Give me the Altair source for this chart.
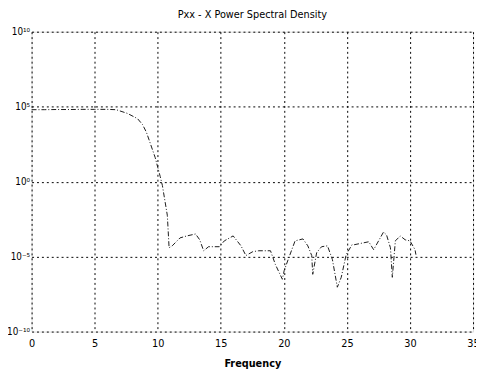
import altair as alt
import pandas as pd

freq = [0.0, 1.0, 2.0, 3.0, 4.0, 5.0, 6.0, 6.7, 7.6, 8.4, 8.8, 9.1, 9.35, 9.8, 10.2, 10.37, 10.76, 10.83, 10.9,
        11.15, 11.77, 12.31, 13.0, 13.33, 13.64, 14.03, 14.89, 15.28, 15.98, 16.6, 16.99, 17.54,
        18.0, 18.94, 19.33, 19.88, 20.03, 20.34, 20.89, 21.51, 21.9, 22.21, 22.29, 22.6, 22.99,
        23.46, 23.85, 24.24, 24.55, 24.94, 25.4, 25.56, 26.73, 27.12, 27.51, 27.9, 28.14, 28.45,
        28.6, 28.84, 29.23, 29.62, 30.0, 30.4, 30.47]
log_pxx = [4.8, 4.8, 4.81, 4.81, 4.82, 4.82, 4.82, 4.8, 4.55, 4.2, 3.8, 3.3, 2.7, 1.6, 0.33, -0.26, -2.24, -3.29, -4.41,
           -4.28, -3.75, -3.62, -3.49, -3.88, -4.61, -4.34, -4.34, -3.95, -3.62, -4.28, -4.93, -4.67,
           -4.61, -4.61, -5.53, -6.51, -5.92, -5.2, -3.95, -3.82, -4.28, -4.93, -6.18, -4.74, -4.34,
           -4.28, -5.2, -7.04, -6.38, -4.87, -4.21, -4.21, -4.01, -4.54, -3.95, -3.36, -3.55, -4.41,
           -6.38, -3.95, -3.62, -3.88, -3.95, -4.54, -4.87]

x_ticks = [0, 5, 10, 15, 20, 25, 30, 35]
y_ticks = [1e-10, 1e-5, 1e0, 1e5, 1e10]

df = pd.DataFrame({"f": freq, "p": [10 ** v for v in log_pxx]})

FONT = "DejaVu Sans Condensed, Liberation Sans Narrow, Liberation Sans, sans-serif"

label_expr = ("datum.value < 1e-7 ? '10⁻¹⁰' : datum.value < 1e-2 ? '10⁻⁵' : "
              "datum.value < 1e2 ? '10⁰' : datum.value < 1e7 ? '10⁵' : '10¹⁰'")

chart = alt.Chart(df).mark_line(color="#1a1a1a", strokeWidth=1, strokeDash=[5, 2, 1, 2]).encode(
    x=alt.X("f:Q", scale=alt.Scale(domain=[0, 35], nice=False),
            axis=alt.Axis(values=x_ticks, title="Frequency", grid=True, gridColor="black",
                          gridDash=[2, 3], gridOpacity=1, gridWidth=1, domain=False,
                          ticks=False, labelFont=FONT, labelFontSize=11,
                          labelColor="black", titleFont=FONT, titleFontSize=11,
                          titleFontWeight="bold", titleColor="black", titlePadding=10,
                          labelPadding=6, labelFlush=False)),
    y=alt.Y("p:Q", scale=alt.Scale(type="log", domain=[1e-10, 1e10], nice=False),
            axis=alt.Axis(values=y_ticks, labelExpr=label_expr, title=None, grid=True,
                          gridColor="black", gridDash=[2, 3], gridOpacity=1, gridWidth=1,
                          domain=False, ticks=False, labelFont=FONT,
                          labelFontSize=10, labelColor="black", labelPadding=2)),
).properties(
    width=449, height=305,
    title=alt.TitleParams("Pxx - X Power Spectral Density", font=FONT, fontSize=11,
                          fontWeight="normal", color="black", offset=7),
    autosize=alt.AutoSizeParams(type="none"),
    padding={"left": 24, "top": 21, "right": 3, "bottom": 38},
).configure_view(stroke="black", strokeWidth=1.5).configure(background="white")

chart.save("out.html", embed_options={"renderer": "svg", "actions": False})
